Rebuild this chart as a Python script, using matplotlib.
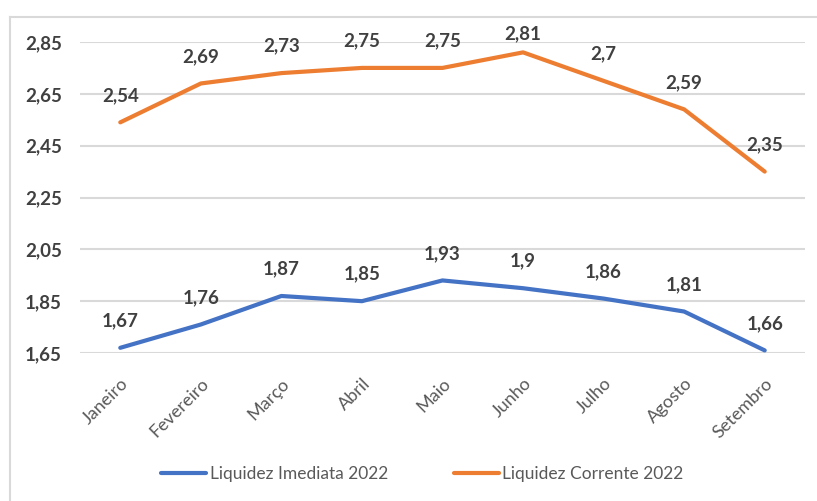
import matplotlib.pyplot as plt
from matplotlib.lines import Line2D
from matplotlib.ticker import FuncFormatter

plt.rcParams['font.family'] = ['Lato', 'DejaVu Sans']

meses = ['Janeiro', 'Fevereiro', 'Março', 'Abril', 'Maio', 'Junho',
         'Julho', 'Agosto', 'Setembro']
imediata = [1.67, 1.76, 1.87, 1.85, 1.93, 1.90, 1.86, 1.81, 1.66]
corrente = [2.54, 2.69, 2.73, 2.75, 2.75, 2.81, 2.70, 2.59, 2.35]
yticks = [1.65, 1.85, 2.05, 2.25, 2.45, 2.65, 2.85]

azul = '#4472C4'
laranja = '#ED7D31'
cinza_txt = '#404040'

fig = plt.figure(figsize=(8.17, 5.01), dpi=100)
ax = fig.add_axes([80 / 817, 1 - 353 / 501, 725 / 817, 311 / 501])

x = list(range(len(meses)))
ax.plot(x, imediata, color=azul, lw=3, solid_capstyle='round',
        label='Liquidez Imediata 2022')
ax.plot(x, corrente, color=laranja, lw=3, solid_capstyle='round',
        label='Liquidez Corrente 2022')

ax.set_xlim(-0.5, len(meses) - 0.5)
ax.set_ylim(1.65, 2.85)

def fmt(v):
    return f'{v:g}'.replace('.', ',')

# rótulos acima dos pontos; perto do topo ficam mais baixos (como no Excel)
for serie in (imediata, corrente):
    for xi, v in zip(x, serie):
        y_px = 42 + (2.85 - v) / 1.2 * 311
        off_px = min(27, y_px - 34)
        ax.annotate(fmt(v), (xi, v), xytext=(0, off_px * 0.72),
                    textcoords='offset points', ha='center', va='center',
                    fontsize=13.5, fontweight='bold', color=cinza_txt)

ax.set_yticks(yticks)
ax.yaxis.set_major_formatter(FuncFormatter(lambda v, p: f'{v:.2f}'.replace('.', ',')))
ax.set_xticks(x)
ax.set_xticklabels(meses, rotation=45, ha='right', rotation_mode='anchor',
                   fontsize=13, color='#595959')
for lbl in ax.get_yticklabels():
    lbl.set_fontweight('bold')
    lbl.set_fontsize(13.5)
    lbl.set_color(cinza_txt)

ax.grid(axis='y', color='#d9d9d9', lw=1.5)
ax.set_axisbelow(True)
for s in ax.spines.values():
    s.set_visible(False)
ax.tick_params(axis='both', length=0)
ax.tick_params(axis='y', pad=13)
ax.tick_params(axis='x', pad=16)

fig.legend(loc='center', bbox_to_anchor=(0.517, 1 - 474 / 501), ncol=2,
           frameon=False, fontsize=12.5, handlelength=2.6, handletextpad=0.2,
           columnspacing=3.8, labelcolor='#595959')

# moldura do gráfico
fig.add_artist(Line2D([10 / 817, 1], [1 - 17 / 501, 1 - 17 / 501],
                      color='#d9d9d9', lw=1.5, transform=fig.transFigure))
fig.add_artist(Line2D([10 / 817, 10 / 817], [0, 1 - 17 / 501],
                      color='#d9d9d9', lw=1.5, transform=fig.transFigure))

fig.savefig('out.png', dpi=100)
